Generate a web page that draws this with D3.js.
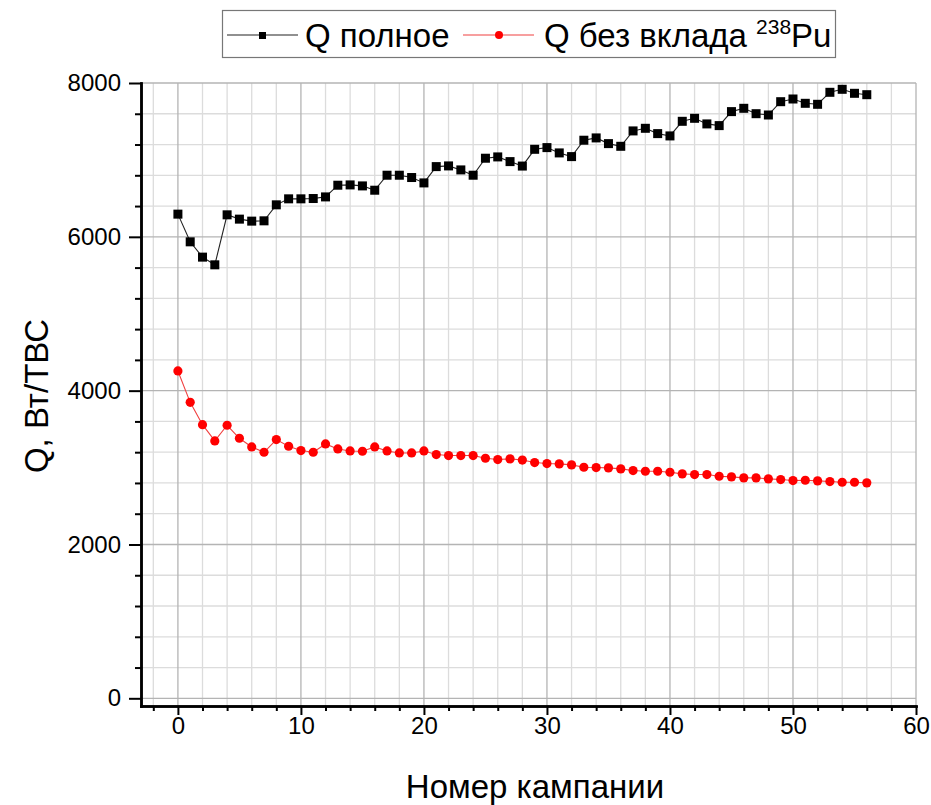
<!DOCTYPE html>
<html>
<head>
<meta charset="utf-8">
<script src="https://cdn.jsdelivr.net/npm/d3@7"></script>
<style>
  body { margin: 0; background: white; }
  text { font-family: Arial, "Liberation Sans", sans-serif; fill: black; }
</style>
</head>
<body>
<svg class="svgMain" width="931" height="805"></svg>
<script>
// Heat release per fuel assembly vs campaign number.

var campaigns = d3.range(0, 57);

var qTotal = [
  6295, 5935, 5736, 5636, 6286, 6230, 6204, 6208, 6416, 6494,
  6494, 6498, 6519, 6671, 6675, 6662, 6606, 6801, 6801, 6771,
  6701, 6913, 6922, 6870, 6801, 7022, 7039, 6978, 6920, 7138,
  7160, 7091, 7043, 7256, 7286, 7212, 7177, 7377, 7411, 7342,
  7312, 7502, 7541, 7468, 7446, 7628, 7671, 7601, 7584, 7757,
  7792, 7736, 7723, 7879, 7918, 7866, 7848
];

var qNoPu = [
  4256, 3848, 3558, 3346, 3550, 3381, 3268, 3199, 3364, 3277,
  3221, 3199, 3307, 3242, 3216, 3212, 3268, 3216, 3190, 3190,
  3216, 3169, 3156, 3156, 3156, 3121, 3104, 3113, 3098, 3065,
  3052, 3048, 3035, 3004, 3000, 2996, 2983, 2961, 2952, 2952,
  2939, 2918, 2909, 2909, 2887, 2879, 2866, 2866, 2853, 2844,
  2831, 2835, 2827, 2818, 2809, 2809, 2801
];

var xTicks = [0, 10, 20, 30, 40, 50, 60];
var yTicks = [0, 2000, 4000, 6000, 8000];

var PLOT_L = 141, PLOT_R = 916, PLOT_T = 83, PLOT_B = 706;

var svgMain = d3.select(".svgMain");

var x = d3.scaleLinear().domain([-3, 60]).range([PLOT_L, PLOT_R]);
var y = d3.scaleLinear().domain([-100, 8000]).range([PLOT_B, PLOT_T]);

var xMinor = d3.range(-2, 61, 2).filter(function (d) { return d % 10 != 0; });
var yMinor = d3.range(0, 8001, 400).filter(function (d) { return d % 2000 != 0; });

// Grid
var grid = svgMain.append("g");
grid.selectAll(".vMinor").data(xMinor).enter().append("line")
    .attr("x1", d => x(d)).attr("x2", d => x(d))
    .attr("y1", PLOT_T).attr("y2", PLOT_B)
    .attr("stroke", "#dcdcdc").attr("stroke-width", 1.3);
grid.selectAll(".hMinor").data(yMinor).enter().append("line")
    .attr("x1", PLOT_L).attr("x2", PLOT_R)
    .attr("y1", d => y(d)).attr("y2", d => y(d))
    .attr("stroke", "#dcdcdc").attr("stroke-width", 1.3);
grid.selectAll(".vMajor").data(xTicks).enter().append("line")
    .attr("x1", d => x(d)).attr("x2", d => x(d))
    .attr("y1", PLOT_T).attr("y2", PLOT_B)
    .attr("stroke", "#b4b4b4").attr("stroke-width", 1.3);
grid.selectAll(".hMajor").data(yTicks).enter().append("line")
    .attr("x1", PLOT_L).attr("x2", PLOT_R)
    .attr("y1", d => y(d)).attr("y2", d => y(d))
    .attr("stroke", "#b4b4b4").attr("stroke-width", 1.3);

// Axes
svgMain.append("g").attr("transform", "translate(0," + PLOT_B + ")")
    .call(d3.axisBottom(x).tickValues(xTicks).tickFormat(d3.format("d"))
        .tickSize(9).tickPadding(2).tickSizeOuter(0));
svgMain.append("g").attr("transform", "translate(0," + PLOT_B + ")")
    .call(d3.axisBottom(x).tickValues(xMinor).tickSize(5).tickFormat("").tickSizeOuter(0));
svgMain.append("g").attr("transform", "translate(" + PLOT_L + ",0)")
    .call(d3.axisLeft(y).tickValues(yTicks).tickFormat(d3.format("d"))
        .tickSize(12).tickPadding(8).tickSizeOuter(0));
svgMain.append("g").attr("transform", "translate(" + PLOT_L + ",0)")
    .call(d3.axisLeft(y).tickValues(yMinor).tickSize(6).tickFormat("").tickSizeOuter(0));

svgMain.selectAll(".domain").attr("stroke", "black").attr("stroke-width", 2.5)
    .attr("stroke-linecap", "square");
svgMain.selectAll(".tick line").attr("stroke", "black").attr("stroke-width", 2);
svgMain.selectAll(".tick text").style("font-size", "24px")
    .style("font-family", "Arial, 'Liberation Sans', sans-serif");

// Axis titles
svgMain.append("text")
    .attr("x", 535).attr("y", 798)
    .attr("text-anchor", "middle")
    .style("font-size", "33px")
    .text("Номер кампании");
svgMain.append("text")
    .attr("transform", "translate(48," + 396 + ") rotate(-90)")
    .attr("text-anchor", "middle")
    .style("font-size", "33px")
    .text("Q, Вт/ТВС");

// Series
var lineGen = d3.line().x((d, i) => x(campaigns[i])).y(d => y(d));
svgMain.append("path").datum(qTotal)
    .attr("d", lineGen).attr("fill", "none")
    .attr("stroke", "#222").attr("stroke-width", 1.1);
svgMain.selectAll(".sq").data(qTotal).enter().append("rect")
    .attr("x", (d, i) => x(campaigns[i]) - 4.5).attr("y", d => y(d) - 4.5)
    .attr("width", 9).attr("height", 9).attr("fill", "black");

svgMain.append("path").datum(qNoPu)
    .attr("d", lineGen).attr("fill", "none")
    .attr("stroke", "#f04040").attr("stroke-width", 1.1);
svgMain.selectAll(".dot").data(qNoPu).enter().append("circle")
    .attr("cx", (d, i) => x(campaigns[i])).attr("cy", d => y(d))
    .attr("r", 4.6).attr("fill", "red");

// Legend
var legend = svgMain.append("g");
legend.append("rect")
    .attr("x", 222.5).attr("y", 10.5).attr("width", 613).attr("height", 47)
    .attr("fill", "white").attr("stroke", "#777").attr("stroke-width", 1.2);
legend.append("line").attr("x1", 227).attr("x2", 298).attr("y1", 35).attr("y2", 35)
    .attr("stroke", "#222").attr("stroke-width", 1.1);
legend.append("rect").attr("x", 259).attr("y", 32).attr("width", 7).attr("height", 7)
    .attr("fill", "black");
legend.append("text").attr("x", 305).attr("y", 47).style("font-size", "33px")
    .text("Q полное");
legend.append("line").attr("x1", 463).attr("x2", 534).attr("y1", 35).attr("y2", 35)
    .attr("stroke", "#f04040").attr("stroke-width", 1.1);
legend.append("circle").attr("cx", 499).attr("cy", 35).attr("r", 4).attr("fill", "red");
var lt = legend.append("text").attr("x", 544).attr("y", 47).style("font-size", "33px");
lt.append("tspan").text("Q без вклада ");
lt.append("tspan").attr("dy", -13).style("font-size", "21px").text("238");
lt.append("tspan").attr("dy", 13).text("Pu");
</script>
</body>
</html>
